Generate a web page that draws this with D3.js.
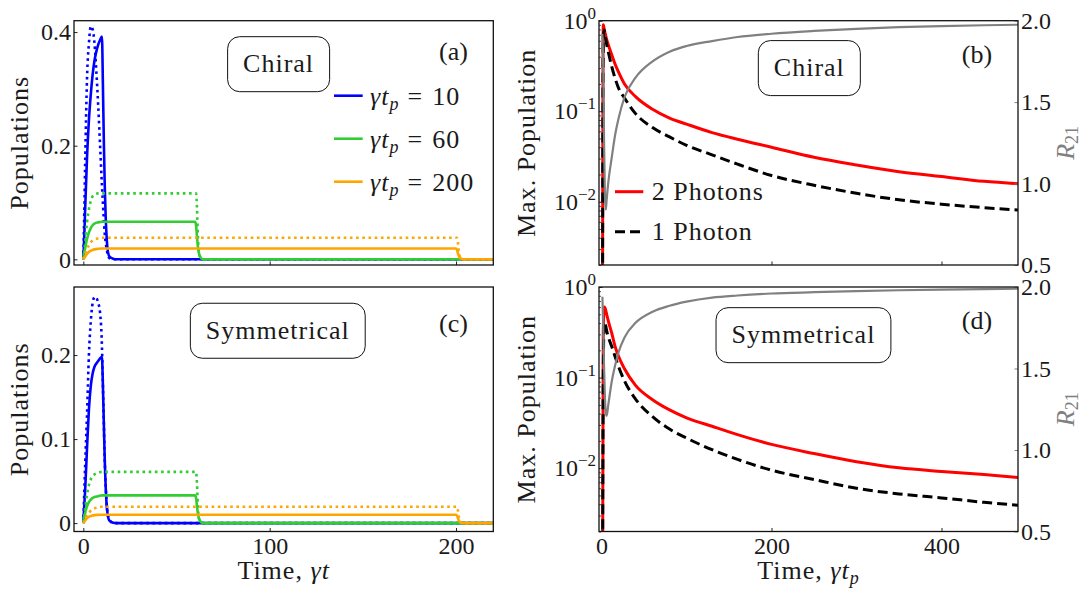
<!DOCTYPE html>
<html>
<head>
<meta charset="utf-8">
<script src="https://cdn.jsdelivr.net/npm/d3@7"></script>
<style>
  body { margin: 0; background: #fff; }
  svg text { font-family: "Liberation Serif", "Times New Roman", serif; fill: #1a1a1a; }
</style>
</head>
<body>
<div id="chart"></div>
<script>
// ---- Data: panels (a) and (c), populations vs time
const time10 = [0, 0.5, 1, 2, 3, 4, 5, 6, 7, 8, 9, 10, 10.5, 11, 11.5, 12, 12.5, 13, 14, 16, 18, 220];
const chiralSolid10 = [0, 0.04, 0.09, 0.18, 0.245, 0.29, 0.325, 0.35, 0.366, 0.378, 0.386, 0.392, 0.31, 0.21, 0.13, 0.075, 0.04, 0.018, 0.005, 0.001, 0, 0];
const chiralDotted10 = [0, 0.08, 0.17, 0.32, 0.38, 0.41, 0.405, 0.38, 0.33, 0.27, 0.2, 0.13, 0.1, 0.07, 0.045, 0.03, 0.018, 0.01, 0.002, 0, 0, 0];
const symSolid10 = [0, 0.02, 0.04, 0.09, 0.135, 0.163, 0.178, 0.186, 0.19, 0.193, 0.196, 0.198, 0.165, 0.12, 0.075, 0.043, 0.022, 0.011, 0.003, 0.0005, 0, 0];
const symDotted10 = [0, 0.035, 0.07, 0.13, 0.2, 0.24, 0.262, 0.269, 0.268, 0.262, 0.25, 0.21, 0.165, 0.12, 0.075, 0.045, 0.025, 0.012, 0.004, 0, 0, 0];

const time60 = [0, 1, 2, 3, 4, 5, 6, 8, 10, 60, 60.5, 61, 61.5, 62, 63, 64, 220];
const chiralSolid60 = [0, 0.02, 0.036, 0.047, 0.055, 0.06, 0.063, 0.065, 0.066, 0.066, 0.06, 0.04, 0.022, 0.011, 0.003, 0, 0];
const chiralDotted60 = [0, 0.03, 0.065, 0.088, 0.103, 0.111, 0.114, 0.116, 0.116, 0.116, 0.116, 0.09, 0.04, 0.012, 0.002, 0, 0];
const symSolid60 = [0, 0.012, 0.02, 0.025, 0.028, 0.03, 0.031, 0.032, 0.033, 0.033, 0.03, 0.02, 0.011, 0.006, 0.0015, 0, 0];
const symDotted60 = [0, 0.018, 0.034, 0.045, 0.052, 0.056, 0.058, 0.06, 0.061, 0.061, 0.061, 0.047, 0.02, 0.006, 0.001, 0, 0];

const time200 = [0, 1, 2, 3, 4, 5, 6, 8, 10, 200, 200.5, 201, 201.5, 202, 203, 204, 220];
const chiralSolid200 = [0, 0.005, 0.0095, 0.013, 0.015, 0.0165, 0.0175, 0.0185, 0.019, 0.019, 0.017, 0.011, 0.006, 0.003, 0.0008, 0, 0];
const chiralDotted200 = [0, 0.009, 0.018, 0.025, 0.03, 0.033, 0.035, 0.037, 0.038, 0.038, 0.038, 0.03, 0.014, 0.005, 0.001, 0, 0];
const symSolid200 = [0, 0.003, 0.006, 0.0075, 0.0085, 0.009, 0.0095, 0.0098, 0.01, 0.01, 0.009, 0.006, 0.003, 0.0015, 0.0004, 0, 0];
const symDotted200 = [0, 0.005, 0.0095, 0.012, 0.015, 0.0165, 0.0175, 0.019, 0.0195, 0.0195, 0.0195, 0.015, 0.007, 0.0025, 0.0005, 0, 0];

const pulseLabels = ["10", "60", "200"];

// ---- Data: panels (b) and (d), max population vs pulse length
const pulseTime = [1, 2, 3, 4, 5, 6, 8, 12, 16, 20, 27, 40, 60, 80, 100, 130, 160, 200, 250, 300, 350, 400, 450, 490];
const twoPhotonChiral = [1e-4, 0.9, 0.82, 0.74, 0.68, 0.62, 0.54, 0.42, 0.33, 0.27, 0.2, 0.145, 0.105, 0.084, 0.072, 0.058, 0.049, 0.04, 0.031, 0.0255, 0.0215, 0.019, 0.0168, 0.0158];
const onePhotonChiral = [1e-4, 0.6, 0.79, 0.7, 0.62, 0.55, 0.45, 0.31, 0.23, 0.18, 0.14, 0.094, 0.066, 0.052, 0.042, 0.033, 0.026, 0.0195, 0.0152, 0.0124, 0.0105, 0.0094, 0.0086, 0.0081];
const ratioChiral = [1.92, 1.7, 1.25, 0.92, 0.84, 0.9, 1.01, 1.16, 1.3, 1.4, 1.53, 1.65, 1.75, 1.81, 1.845, 1.875, 1.9, 1.92, 1.937, 1.95, 1.96, 1.967, 1.972, 1.975];
const twoPhotonSym = [1e-4, 0.3, 0.6, 0.59, 0.55, 0.5, 0.42, 0.31, 0.22, 0.172, 0.125, 0.082, 0.057, 0.044, 0.036, 0.029, 0.0235, 0.0183, 0.0145, 0.0118, 0.0101, 0.0092, 0.0085, 0.0079];
const onePhotonSym = [1e-4, 0.1, 0.38, 0.41, 0.37, 0.33, 0.28, 0.22, 0.17, 0.132, 0.092, 0.058, 0.037, 0.027, 0.0215, 0.016, 0.0125, 0.0095, 0.0075, 0.006, 0.0052, 0.0047, 0.0042, 0.0039];
const ratioSym = [1.94, 1.75, 1.5, 1.32, 1.23, 1.21, 1.28, 1.42, 1.52, 1.6, 1.69, 1.78, 1.848, 1.885, 1.91, 1.935, 1.948, 1.96, 1.968, 1.975, 1.98, 1.984, 1.987, 1.99];

const photonLabels = ["2 Photons", "1 Photon"];

// ---- Layout
const width = 1085, height = 589;
const FONT_TICK = 24, FONT_LABEL = 26;
const colors = { blue: "#0000ff", green: "#32cd32", orange: "#ffa500", red: "#ff0000", gray: "#808080" };

const svg = d3.select("#chart").append("svg")
  .attr("width", width).attr("height", height);

const boxes = {
  a: { left: 74, top: 20.7, right: 493.3, bottom: 265 },
  c: { left: 74, top: 287, right: 493.3, bottom: 531.5 },
  b: { left: 599, top: 20.7, right: 1018, bottom: 265 },
  d: { left: 599, top: 287, right: 1018, bottom: 531.5 },
};

const zip = (xs, ys) => xs.map((x, i) => [x, ys[i]]);

function styleAxis(g, color) {
  g.select(".domain").remove();
  g.selectAll(".tick line").attr("stroke", color || "#222").attr("stroke-width", 1);
  g.selectAll(".tick text").attr("font-size", FONT_TICK).attr("fill", color || "#1a1a1a");
}

function panelFrame(key) {
  const b = boxes[key];
  const w = b.right - b.left, h = b.bottom - b.top;
  const g = svg.append("g").attr("transform", `translate(${b.left},${b.top})`);
  g.append("clipPath").attr("id", "clip-" + key)
    .append("rect").attr("width", w).attr("height", h);
  const plot = g.append("g").attr("clip-path", `url(#clip-${key})`);
  return { g, plot, w, h };
}

function titleBox(g, w, h, fx, fy, text) {
  const box = g.append("rect");
  const t = g.append("text")
    .attr("x", fx * w).attr("y", fy * h + 8)
    .attr("text-anchor", "middle")
    .attr("font-size", FONT_LABEL).attr("letter-spacing", 1)
    .text(text);
  const bb = t.node().getBBox();
  box.attr("x", fx * w - (bb.width + 31) / 2).attr("y", fy * h - 27.5)
    .attr("width", bb.width + 31).attr("height", 55)
    .attr("rx", 12).attr("fill", "#fff").attr("stroke", "#111").attr("stroke-width", 1);
}

// γt_p = value, written with tspans
function mathPulse(sel, value, sub) {
  sel.append("tspan").attr("font-style", "italic").text("γt");
  if (sub) sel.append("tspan").attr("font-style", "italic").attr("font-size", 18).attr("dy", 5).text("p");
  if (value !== undefined) {
    sel.append("tspan").attr("dy", sub ? -5 : 0).attr("dx", 8).text("=");
    sel.append("tspan").attr("dx", 9).text(value);
  }
}

// ---- Left column: populations
function popPanel(key, yDomain, yTicks, series, title, letter, showLegend, showX) {
  const { g, plot, w, h } = panelFrame(key);
  const x = d3.scaleLinear().domain([-5, 220]).range([0, w]);
  const y = d3.scaleLinear().domain(yDomain).range([h, 0]);

  const line = d3.line().x(d => x(d[0])).y(d => y(d[1])).curve(d3.curveMonotoneX);
  series.forEach(s => {
    plot.append("path")
      .datum(zip(s.t, s.v))
      .attr("d", line)
      .attr("fill", "none")
      .attr("stroke", s.color)
      .attr("stroke-width", 2.6)
      .attr("stroke-dasharray", s.dotted ? "2.6,3.6" : null);
  });

  const yAxis = g.append("g").call(d3.axisLeft(y).tickValues(yTicks).tickSize(-3.5).tickPadding(3)
    .tickFormat(d => d === 0 ? "0" : d3.format(".1f")(d)));
  styleAxis(yAxis);
  const xAxis = g.append("g").attr("transform", `translate(0,${h})`)
    .call(d3.axisBottom(x).tickValues([0, 100, 200]).tickSize(-3.5).tickPadding(5)
      .tickFormat(showX ? d3.format("d") : ""));
  styleAxis(xAxis);

  g.append("rect").attr("width", w).attr("height", h)
    .attr("fill", "none").attr("stroke", "#111").attr("stroke-width", 1.3);

  g.append("text")
    .attr("transform", `translate(${27.5 - boxes[key].left},${h / 2}) rotate(-90)`)
    .attr("text-anchor", "middle").attr("font-size", FONT_LABEL).attr("letter-spacing", 1)
    .text("Populations");

  titleBox(g, w, h, key === "a" ? 0.488 : 0.486, key === "a" ? 0.178 : 0.179, title);

  g.append("text").attr("x", 0.905 * w).attr("y", key === "a" ? 39.5 : 45)
    .attr("text-anchor", "middle").attr("font-size", FONT_LABEL).text(letter);

  if (showLegend) {
    const legendColors = [colors.blue, colors.green, colors.orange];
    pulseLabels.forEach((lab, i) => {
      const ly = 75 + i * 43;
      g.append("line").attr("x1", 260).attr("x2", 288.7).attr("y1", ly).attr("y2", ly)
        .attr("stroke", legendColors[i]).attr("stroke-width", 2.6);
      const t = g.append("text").attr("x", 296).attr("y", ly + 9)
        .attr("font-size", FONT_LABEL).attr("letter-spacing", 1);
      mathPulse(t, lab, true);
    });
  }

  if (showX) {
    const t = g.append("text").attr("x", w / 2).attr("y", h + 47.5)
      .attr("text-anchor", "middle").attr("font-size", FONT_LABEL).attr("letter-spacing", 1);
    t.append("tspan").text("Time, ");
    mathPulse(t, undefined, false);
  }
}

// ---- Right column: max population (log) and ratio R21
function maxPanel(key, two, one, ratio, title, letter, showLegend, showX) {
  const { g, plot, w, h } = panelFrame(key);
  const x = d3.scaleLinear().domain([-3, 490]).range([0, w]);
  const y = d3.scaleLog().domain([0.002, 1]).range([h, 0]);
  const yR = d3.scaleLinear().domain([0.5, 2]).range([h, 0]);

  const lineLog = d3.line().x(d => x(d[0])).y(d => y(d[1])).curve(d3.curveMonotoneX);
  const lineR = d3.line().x(d => x(d[0])).y(d => yR(d[1])).curve(d3.curveMonotoneX);

  plot.append("path").datum(zip(pulseTime, two)).attr("d", lineLog)
    .attr("fill", "none").attr("stroke", colors.red).attr("stroke-width", 3);
  plot.append("path").datum(zip(pulseTime, one)).attr("d", lineLog)
    .attr("fill", "none").attr("stroke", "#000").attr("stroke-width", 3)
    .attr("stroke-dasharray", "10,5");
  plot.append("path").datum(zip(pulseTime, ratio)).attr("d", lineR)
    .attr("fill", "none").attr("stroke", colors.gray).attr("stroke-width", 2.2);

  // log axis with minor ticks
  const minors = [];
  [0.001, 0.01, 0.1].forEach(dec => d3.range(2, 10).forEach(k => {
    const v = dec * k;
    if (v >= 0.002 && v < 1) minors.push(v);
  }));
  const minorAxis = g.append("g").call(d3.axisLeft(y).tickValues(minors).tickSize(-2).tickFormat(""));
  styleAxis(minorAxis);
  minorAxis.selectAll(".tick line").attr("stroke-width", 0.8);

  const yAxis = g.append("g").call(d3.axisLeft(y).tickValues([0.01, 0.1, 1]).tickSize(-3.5).tickPadding(3));
  styleAxis(yAxis);
  yAxis.selectAll(".tick text").each(function (d) {
    const t = d3.select(this).text("");
    t.append("tspan").text("10");
    t.append("tspan").attr("font-size", 17).attr("dy", -10)
      .text(d === 1 ? "0" : "\u2212" + Math.round(-Math.log10(d)));
  });

  const rAxis = g.append("g").attr("transform", `translate(${w},0)`)
    .call(d3.axisRight(yR).tickValues([0.5, 1, 1.5, 2]).tickSize(-3.5).tickPadding(3)
      .tickFormat(d3.format(".1f")));
  styleAxis(rAxis, colors.gray);

  const xAxis = g.append("g").attr("transform", `translate(0,${h})`)
    .call(d3.axisBottom(x).tickValues([0, 200, 400]).tickSize(-3.5).tickPadding(5)
      .tickFormat(showX ? d3.format("d") : ""));
  styleAxis(xAxis);

  g.append("rect").attr("width", w).attr("height", h)
    .attr("fill", "none").attr("stroke", "#111").attr("stroke-width", 1.3);

  g.append("text")
    .attr("transform", `translate(${535 - boxes[key].left},${h / 2}) rotate(-90)`)
    .attr("text-anchor", "middle").attr("font-size", FONT_LABEL).attr("letter-spacing", 1)
    .text("Max. Population");

  const rl = g.append("text")
    .attr("transform", `translate(${1074 - boxes[key].left},${h / 2}) rotate(-90)`)
    .attr("text-anchor", "middle").attr("font-size", FONT_LABEL);
  rl.append("tspan").attr("font-style", "italic").attr("fill", colors.gray).text("R");
  rl.append("tspan").attr("font-size", 18).attr("dy", 4).attr("fill", colors.gray).text("21");

  titleBox(g, w, h, key === "b" ? 0.502 : 0.488, key === "b" ? 0.194 : 0.197, title);

  g.append("text").attr("x", 0.902 * w).attr("y", key === "b" ? 42.3 : 42)
    .attr("text-anchor", "middle").attr("font-size", FONT_LABEL).text(letter);

  if (showLegend) {
    [[colors.red, null], ["#000", "10,5"]].forEach(([c, dash], i) => {
      const ly = 171 + i * 40;
      g.append("line").attr("x1", 16).attr("x2", 44.3).attr("y1", ly).attr("y2", ly)
        .attr("stroke", c).attr("stroke-width", 3).attr("stroke-dasharray", dash);
      g.append("text").attr("x", 52.7).attr("y", ly + 8.5)
        .attr("font-size", FONT_LABEL).attr("letter-spacing", 1).text(photonLabels[i]);
    });
  }

  if (showX) {
    const t = g.append("text").attr("x", w / 2).attr("y", h + 47.5)
      .attr("text-anchor", "middle").attr("font-size", FONT_LABEL).attr("letter-spacing", 1);
    t.append("tspan").text("Time, ");
    mathPulse(t, undefined, true);
  }
}

const chiralSeries = [
  { t: time10, v: chiralSolid10, color: colors.blue },
  { t: time10, v: chiralDotted10, color: colors.blue, dotted: true },
  { t: time60, v: chiralSolid60, color: colors.green },
  { t: time60, v: chiralDotted60, color: colors.green, dotted: true },
  { t: time200, v: chiralSolid200, color: colors.orange },
  { t: time200, v: chiralDotted200, color: colors.orange, dotted: true },
];
const symSeries = [
  { t: time10, v: symSolid10, color: colors.blue },
  { t: time10, v: symDotted10, color: colors.blue, dotted: true },
  { t: time60, v: symSolid60, color: colors.green },
  { t: time60, v: symDotted60, color: colors.green, dotted: true },
  { t: time200, v: symSolid200, color: colors.orange },
  { t: time200, v: symDotted200, color: colors.orange, dotted: true },
];

popPanel("a", [-0.01, 0.42], [0, 0.2, 0.4], chiralSeries, "Chiral", "(a)", true, false);
popPanel("c", [-0.01, 0.281], [0, 0.1, 0.2], symSeries, "Symmetrical", "(c)", false, true);
maxPanel("b", twoPhotonChiral, onePhotonChiral, ratioChiral, "Chiral", "(b)", true, false);
maxPanel("d", twoPhotonSym, onePhotonSym, ratioSym, "Symmetrical", "(d)", false, true);
</script>
</body>
</html>
